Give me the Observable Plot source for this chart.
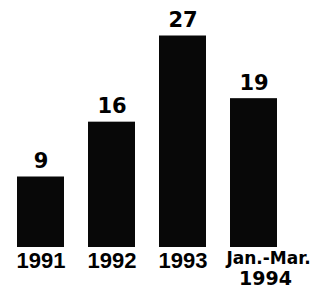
<!DOCTYPE html>
<html>
<head>
<meta charset="utf-8">
<script src="https://cdn.jsdelivr.net/npm/d3@7"></script>
<script src="https://cdn.jsdelivr.net/npm/@observablehq/plot@0.6"></script>
<style>
  html, body { margin: 0; padding: 0; background: #fff; }
  #chart { width: 325px; height: 293px; }
  g[aria-label="values"] text { letter-spacing: 2px; }
  g[aria-label="years"] text { letter-spacing: 0.5px; }
  g[aria-label="lastlabel1"] text { letter-spacing: 1.2px; }
  g[aria-label="lastlabel2"] text { letter-spacing: 1px; }
</style>
</head>
<body>
<div id="chart"></div>
<script>
const categories = ["1991", "1992", "1993", "Jan.-Mar.\n1994"];
const values = [9, 16, 27, 19];
const valueLabels = ["9", "16", "27", "19"];

const data = categories.map((c, i) => ({category: c, value: values[i], label: valueLabels[i]}));
const years = data.slice(0, 3);
const last = data.slice(3);

const chart = Plot.plot({
  width: 325,
  height: 293,
  marginLeft: 16,
  marginRight: 47,
  marginTop: 12,
  marginBottom: 46,
  style: {background: "#fff"},
  x: {domain: categories, paddingInner: 0.344, paddingOuter: 0, axis: null},
  y: {domain: [0, 30], axis: null},
  marks: [
    Plot.barY(data, {x: "category", y: "value", fill: "#080808"}),
    Plot.text(data, {
      x: "category", y: "value", text: "label",
      lineAnchor: "bottom", dy: -9,
      fontFamily: "DejaVu Sans", fontWeight: "bold", fontSize: 21,
      fill: "#000", ariaLabel: "values"
    }),
    Plot.text(years, {
      x: "category", y: () => 0, text: "category",
      lineAnchor: "top", dy: 5,
      fontFamily: "Liberation Sans, Arial, sans-serif", fontWeight: "bold", fontSize: 22,
      fill: "#000", ariaLabel: "years"
    }),
    Plot.text(last, {
      x: "category", y: () => 0, text: d => d.category.split("\n")[0],
      lineAnchor: "bottom", dy: 16, dx: 14.5,
      fontFamily: "DejaVu Sans", fontWeight: "bold", fontSize: 17,
      fill: "#000", ariaLabel: "lastlabel1"
    }),
    Plot.text(last, {
      x: "category", y: () => 0, text: d => d.category.split("\n")[1],
      lineAnchor: "bottom", dy: 37, dx: 11.5,
      fontFamily: "DejaVu Sans", fontWeight: "bold", fontSize: 19,
      fill: "#000", ariaLabel: "lastlabel2"
    })
  ]
});
document.getElementById("chart").appendChild(chart);
</script>
</body>
</html>
